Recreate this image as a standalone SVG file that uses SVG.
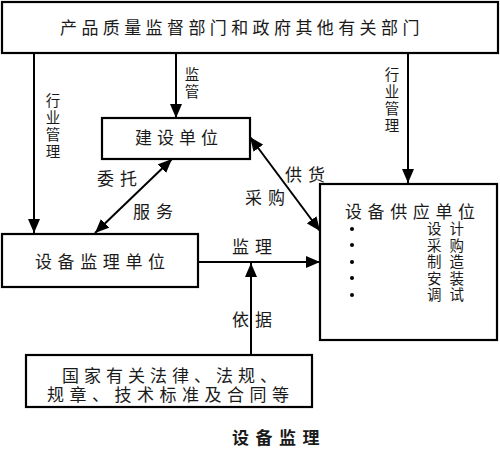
<svg xmlns="http://www.w3.org/2000/svg" width="500" height="450" viewBox="0 0 500 450">
<defs>
<marker id="ah" markerUnits="userSpaceOnUse" markerWidth="14" markerHeight="12" viewBox="0 0 14 12" refX="14" refY="6" orient="auto-start-reverse">
<path d="M0 0 L14 6 L0 12 Z" fill="#000"/>
</marker>
<style>
.box{fill:#fff;stroke:#000;stroke-width:2.2}
.t{font-family:"Liberation Sans","Noto Sans CJK SC",sans-serif;font-size:17px;fill:#1a1a1a}
.s{font-size:14.5px}
.ln{fill:none;stroke:#000;stroke-width:2}
</style>
</defs>
<rect width="500" height="450" fill="#fff"/>
<g id="connectors">
<path class="ln" d="M34 53 V233" marker-end="url(#ah)"/>
<path class="ln" d="M176 53 V118" marker-end="url(#ah)"/>
<path class="ln" d="M408 53 V183" marker-end="url(#ah)"/>
<path class="ln" d="M172 159 L95 233" marker-start="url(#ah)" marker-end="url(#ah)"/>
<path class="ln" d="M250 137 L320 231" marker-start="url(#ah)" marker-end="url(#ah)"/>
<path class="ln" d="M198 262 H320" marker-end="url(#ah)"/>
<path class="ln" d="M251 355 V263" marker-end="url(#ah)"/>
<text class="t s" x="53" y="106" text-anchor="middle"><tspan x="53">行</tspan><tspan x="53" dy="17">业</tspan><tspan x="53" dy="17">管</tspan><tspan x="53" dy="17">理</tspan></text>
<text class="t s" x="392" y="80" text-anchor="middle"><tspan x="392">行</tspan><tspan x="392" dy="17">业</tspan><tspan x="392" dy="17">管</tspan><tspan x="392" dy="17">理</tspan></text>
<text class="t s" x="192" y="80" text-anchor="middle"><tspan x="192">监</tspan><tspan x="192" dy="17">管</tspan></text>
<text class="t" x="97" y="185" letter-spacing="6">委托</text>
<text class="t" x="133" y="218" letter-spacing="6">服务</text>
<text class="t" x="285" y="181" letter-spacing="6">供货</text>
<text class="t" x="245" y="204" letter-spacing="6">采购</text>
<text class="t" x="232" y="253" letter-spacing="6">监理</text>
<text class="t" x="232" y="326" letter-spacing="6">依据</text>
</g>
<g id="top">
<rect class="box" x="2" y="2" width="496" height="51"/>
<text class="t" x="60" y="34" letter-spacing="4.4">产品质量监督部门和政府其他有关部门</text>
</g>
<g id="jianshe">
<rect class="box" x="102" y="118" width="148" height="41"/>
<text class="t" x="135" y="144" letter-spacing="5">建设单位</text>
</g>
<g id="jianli">
<rect class="box" x="2" y="234" width="196" height="53"/>
<text class="t" x="35" y="268" letter-spacing="5.6">设备监理单位</text>
</g>
<g id="gongying">
<rect class="box" x="320" y="184" width="177" height="156"/>
<text class="t" x="345" y="218" letter-spacing="5.6">设备供应单位</text>
<g fill="#000">
<circle cx="352" cy="229" r="2"/>
<circle cx="352" cy="245" r="2"/>
<circle cx="352" cy="262" r="2"/>
<circle cx="352" cy="278" r="2"/>
<circle cx="352" cy="295" r="2"/>
</g>
<text class="t s" x="427" y="234" letter-spacing="8">设计</text>
<text class="t s" x="427" y="250.5" letter-spacing="8">采购</text>
<text class="t s" x="427" y="267" letter-spacing="8">制造</text>
<text class="t s" x="427" y="283.5" letter-spacing="8">安装</text>
<text class="t s" x="427" y="300" letter-spacing="8">调试</text>
</g>
<g id="falv">
<rect class="box" x="26" y="355" width="286" height="52"/>
<text class="t" x="62" y="382" letter-spacing="5">国家有关法律、法规、</text>
<text class="t" x="47" y="401" letter-spacing="5.5">规章、技术标准及合同等</text>
</g>
<g id="caption">
<text class="t" x="232" y="444" font-size="16" font-weight="bold" letter-spacing="6.5">设备监理</text>
</g>
</svg>
